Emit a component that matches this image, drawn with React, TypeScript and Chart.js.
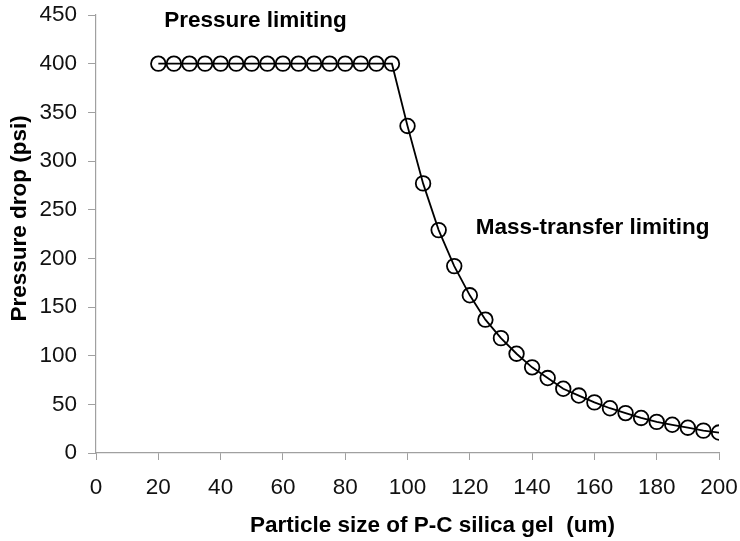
import React, { useEffect, useRef } from "react";
import { Chart, registerables } from "chart.js";

Chart.register(...registerables);

const particleSize = [20, 25, 30, 35, 40, 45, 50, 55, 60, 65, 70, 75, 80, 85, 90, 95, 100, 105, 110, 115, 120, 125, 130, 135, 140, 145, 150, 155, 160, 165, 170, 175, 180, 185, 190, 195, 200];
const pressureDrop = [400, 400, 400, 400, 400, 400, 400, 400, 400, 400, 400, 400, 400, 400, 400, 400, 336, 277, 229, 192, 162, 137, 118, 102, 88, 77, 66, 59, 52, 46, 41, 36, 32, 29, 26, 23, 21];

const xTitle = "Particle size of P-C silica gel  (um)";
const yTitle = "Pressure drop (psi)";
const annotationTexts = ["Pressure limiting", "Mass-transfer limiting"];
const annotationAnchors = [
  { x: 51.2, y: 444 },
  { x: 159.4, y: 231 },
];
// where the axis titles are centred, in data units along their axis
const xTitleCenter = 108;
const yTitleCenter = 241;

const FONT = "'Liberation Sans', Arial, sans-serif";
const BOLD = `bold 22.5px ${FONT}`;

const annotationPlugin = {
  id: "textAnnotations",
  afterDraw(chart: any) {
    const { ctx, scales } = chart;
    ctx.save();
    ctx.font = BOLD;
    ctx.fillStyle = "#000";
    ctx.textAlign = "center";
    ctx.textBaseline = "middle";
    annotationTexts.forEach((t, i) => {
      const a = annotationAnchors[i];
      ctx.fillText(t, scales.x.getPixelForValue(a.x), scales.y.getPixelForValue(a.y));
    });
    // axis titles
    ctx.fillText(xTitle, scales.x.getPixelForValue(xTitleCenter), scales.x.bottom - 14);
    ctx.translate(scales.y.left + 14, scales.y.getPixelForValue(yTitleCenter));
    ctx.rotate(-Math.PI / 2);
    ctx.fillText(yTitle, 0, 0);
    ctx.restore();
  },
};

export default function App() {
  const ref = useRef<HTMLCanvasElement>(null);
  useEffect(() => {
    document.body.style.margin = "0";
    const chart = new Chart(ref.current!, {
      type: "scatter",
      data: {
        datasets: [
          {
            data: particleSize.map((x, i) => ({ x, y: pressureDrop[i] })),
            showLine: true,
            borderColor: "#000",
            borderWidth: 1.8,
            pointRadius: 7.3,
            pointBorderWidth: 1.8,
            pointBorderColor: "#000",
            pointBackgroundColor: "rgba(0,0,0,0)",
            tension: 0,
          },
        ],
      },
      options: {
        animation: false,
        responsive: false,
        maintainAspectRatio: false,
        layout: { padding: { top: 0, right: 0, left: 6, bottom: 1 } },
        plugins: { legend: { display: false }, tooltip: { enabled: false } },
        scales: {
          x: {
            type: "linear",
            min: 0,
            max: 200,
            afterFit: (s: any) => { s.paddingRight = 21; },
            ticks: { stepSize: 20, color: "#111", font: { size: 22.5, family: FONT, lineHeight: 1 }, padding: 17, maxRotation: 0 },
            grid: { drawOnChartArea: false, drawTicks: true, tickLength: 7, color: "#a0a0a0" },
            border: { color: "#a0a0a0", width: 1.2 },
            title: { display: true, text: xTitle, color: "rgba(0,0,0,0)", font: { size: 22.5, weight: "bold", family: FONT, lineHeight: 1 }, padding: { top: 1, bottom: 0 } },
          },
          y: {
            min: 0,
            max: 450,
            afterFit: (s: any) => { s.paddingTop = 15; },
            ticks: { stepSize: 50, color: "#111", font: { size: 22.5, family: FONT, lineHeight: 1 }, padding: 11 },
            grid: { drawOnChartArea: false, drawTicks: true, tickLength: 8, color: "#a0a0a0" },
            border: { color: "#a0a0a0", width: 1.2 },
            title: { display: true, text: yTitle, color: "rgba(0,0,0,0)", font: { size: 22.5, weight: "bold", family: FONT, lineHeight: 1 }, padding: { top: 0, bottom: 0 } },
          },
        },
      },
      plugins: [annotationPlugin],
    });
    return () => chart.destroy();
  }, []);
  return (
    <div style={{ width: 740, height: 541, background: "#fff" }}>
      <canvas ref={ref} width={740} height={541} style={{ width: 740, height: 541 }} />
    </div>
  );
}
